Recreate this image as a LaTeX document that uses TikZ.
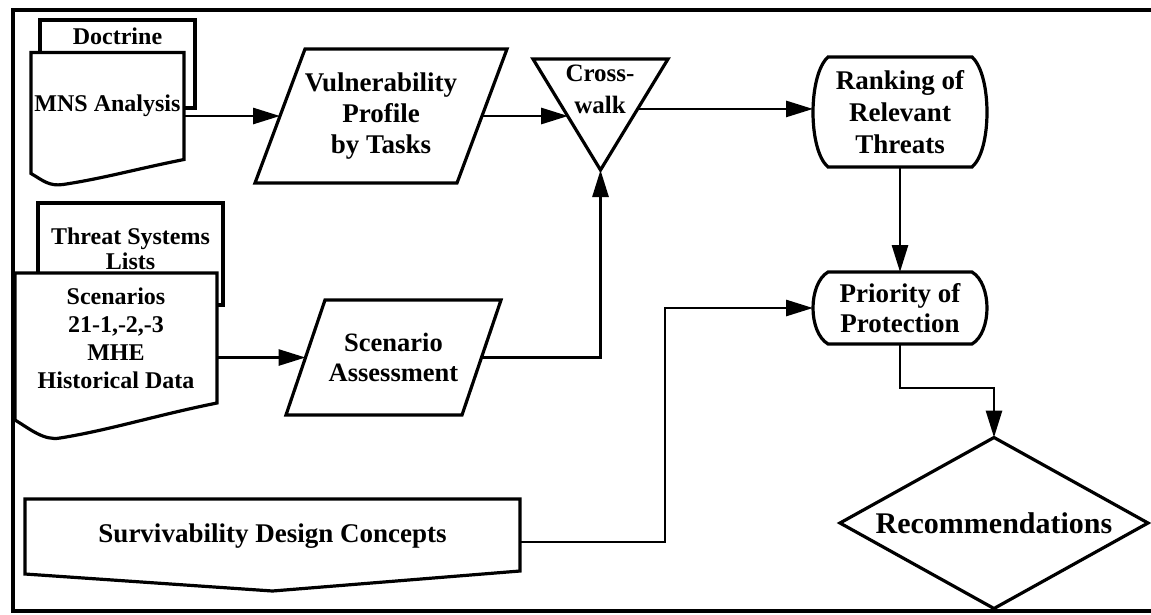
\documentclass[tikz,border=0pt]{standalone}
\usepackage{fontspec}
\setmainfont{Liberation Serif}
\usetikzlibrary{arrows.meta,calc}
\pgfdeclarelayer{bg}
\pgfsetlayers{bg,main}
\begin{document}
\begin{tikzpicture}[x=1pt,y=-1pt,
  shp/.style={line width=3.2pt, line join=miter, fill=white},
  box/.style={inner sep=0pt, outer sep=0pt, align=center, font=\bfseries\fontsize{27}{31}\selectfont},
  docbox/.style={inner sep=0pt, outer sep=0pt, align=center, font=\bfseries\fontsize{24}{28}\selectfont},
  conn/.style={line width=2.8pt, line join=miter},
  arr/.style={conn, -{Triangle[length=27pt,width=16pt]}},
]
\useasboundingbox (0,0) rectangle (1151,614);
% frame
\draw[line width=4pt] (13,10) rectangle (1158,611);

% ---- Doctrine / MNS Analysis document stack
\node[docbox, minimum width=155pt, minimum height=88pt] (doct) at (117.5,64) {};
\node[docbox] (doctlbl) at (117.5,36) {Doctrine};
\node[docbox, minimum width=153pt, minimum height=107pt] (mns) at (107.5,106) {MNS Analysis};

% ---- Threat systems / Scenarios document stack
\node[docbox, minimum width=185pt, minimum height=102pt] (thr) at (130.5,254) {};
\node[docbox, font=\bfseries\fontsize{24}{25}\selectfont] (thrlbl) at (130.5,249) {Threat Systems\\Lists};
\node[docbox, minimum width=202pt, minimum height=130pt] (scen) at (116,338) {Scenarios\\21-1,-2,-3\\MHE\\Historical Data};

% ---- process boxes
\node[box, minimum width=202pt, minimum height=134pt] (vuln) at (381,116) {Vulnerability\\Profile\\by Tasks};
\node[box, minimum width=176pt, minimum height=115pt, font=\bfseries\fontsize{26.5}{30}\selectfont] (sa) at (393.5,357.5) {Scenario\\Assessment};
\node[box, minimum width=135pt, minimum height=111pt] (cw) at (600.5,114.5) {};
\node[box, font=\bfseries\fontsize{25}{32}\selectfont] (cwlbl) at (600,89) {Cross-\\walk};
\node[box, minimum width=174pt, minimum height=110pt, font=\bfseries\fontsize{27}{32}\selectfont] (rank) at (900,112) {Ranking of\\Relevant\\Threats};
\node[box, minimum width=174pt, minimum height=72pt, font=\bfseries\fontsize{27}{30}\selectfont] (prio) at (900,308) {Priority of\\Protection};
\node[box, minimum width=495pt, minimum height=74pt] (sdc) at (272.5,536) {Survivability Design Concepts};
\node[box, minimum width=308pt, minimum height=171pt, font=\bfseries\fontsize{30}{34}\selectfont] (rec) at (994,523) {Recommendations};

\coordinate (cwin) at ($(cw.north west)!0.52!(cw.south)$);
\coordinate (cwout) at ($(cw.north east)!0.45!(cw.south)$);
\coordinate (sdcbend) at (665,420);

\begin{pgfonlayer}{bg}
  % Doctrine back page
  \draw[shp] (doct.north west) rectangle (doct.south east);
  % MNS front page
  \draw[shp] (mns.south east) -- (mns.north east) -- (mns.north west)
    -- ($(mns.south west)+(0,14)$)
    .. controls +(12,7) and +(-14,2) .. ($(mns.south west)+(32,25)$)
    .. controls +(40,-6) and +(-50,10) .. (mns.south east) -- cycle;
  % Threat systems back page
  \draw[shp] (thr.north west) rectangle (thr.south east);
  % Scenarios front page
  \draw[shp] (scen.south east) -- (scen.north east) -- (scen.north west)
    -- ($(scen.south west)+(0,17)$)
    .. controls +(15,9) and +(-16,3) .. ($(scen.south west)+(45,35)$)
    .. controls +(50,-8) and +(-60,12) .. (scen.south east) -- cycle;
  % parallelograms
  \draw[shp] ([xshift=-25pt]vuln.south west) -- ([xshift=25pt]vuln.north west)
    -- ([xshift=25pt]vuln.north east) -- ([xshift=-25pt]vuln.south east) -- cycle;
  \draw[shp] ([xshift=-19.5pt]sa.south west) -- ([xshift=19.5pt]sa.north west)
    -- ([xshift=19.5pt]sa.north east) -- ([xshift=-19.5pt]sa.south east) -- cycle;
  % cross-walk triangle
  \draw[shp] (cw.north west) -- (cw.north east) -- (cw.south) -- cycle;
  % rounded terminators
  \draw[shp] ($(rank.north west)+(15,0)$) -- ($(rank.north east)+(-15,0)$)
    .. controls ($(rank.north east)+(5,18)$) and ($(rank.south east)+(5,-17)$) .. ($(rank.south east)+(-15,0)$)
    -- ($(rank.south west)+(15,0)$)
    .. controls ($(rank.south west)+(-5,-17)$) and ($(rank.north west)+(-5,18)$) .. cycle;
  \draw[shp] ($(prio.north west)+(15,0)$) -- ($(prio.north east)+(-15,0)$)
    .. controls ($(prio.north east)+(5,12)$) and ($(prio.south east)+(5,-12)$) .. ($(prio.south east)+(-15,0)$)
    -- ($(prio.south west)+(15,0)$)
    .. controls ($(prio.south west)+(-5,-12)$) and ($(prio.north west)+(-5,12)$) .. cycle;
  % off-page connector
  \draw[shp] (sdc.north west) -- (sdc.north east) -- ($(sdc.south east)+(0,-2)$)
    -- ($(sdc.south)+(0,18)$) -- ($(sdc.south west)+(0,1)$) -- cycle;
  % decision diamond
  \draw[shp] (rec.north) -- (rec.east) -- (rec.south) -- (rec.west) -- cycle;
\end{pgfonlayer}

% ---- connectors
\draw[arr] (mns.east |- vuln.west) -- (vuln.west);
\draw[arr] (vuln.east) -- (vuln.east -| cwin);
\draw[arr] (cwout) -- (cwout -| rank.west);
\draw[arr] (rank.south) -- (prio.north);
\draw[arr] (scen.east |- sa.west) -- (sa.west);
\draw[arr] (sa.east) -| (cw.south);
\draw[arr] ([yshift=-6pt]sdc.east) -| (sdcbend) |- (prio.west);
\draw[arr] (prio.south) -- ++(0,44) -| (rec.north);
\end{tikzpicture}
\end{document}
